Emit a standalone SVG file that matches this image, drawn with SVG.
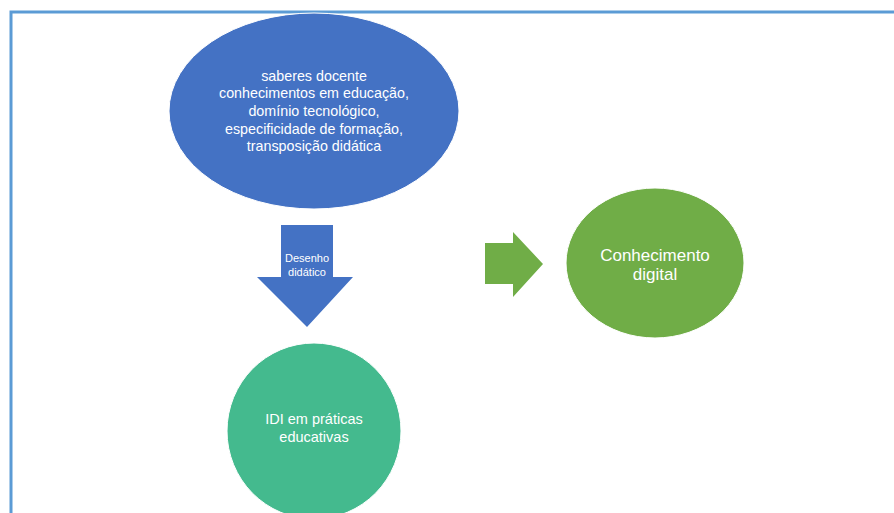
<svg xmlns="http://www.w3.org/2000/svg" width="894" height="513" viewBox="0 0 894 513">
  <style>
    text { font-family: "Liberation Sans", Arial, sans-serif; fill: #ffffff; text-anchor: middle; }
    .t14 { font-size: 14.3px; }
    .t17 { font-size: 17px; }
    .t11 { font-size: 11px; }
    .tl { font-size: 14.5px; }
  </style>
  <rect width="894" height="513" fill="#ffffff"/>
  <!-- frame -->
  <path d="M11 513 V12 H894" fill="none" stroke="#5B9BD5" stroke-width="3"/>

  <g id="connectors">
    <!-- downward block arrow -->
    <polygon points="281,225 333,225 333,277 353,277 307,327 257,277 281,277" fill="#4472C4"/>
    <text class="t11" x="307" y="262">Desenho</text>
    <text class="t11" x="307" y="276">didático</text>
    <!-- right block arrow -->
    <polygon points="485,243 513,243 513,232 543,264 513,297 513,284 485,284" fill="#70AD47"/>
  </g>

  <g id="saberes">
    <ellipse cx="314" cy="111" rx="145" ry="98" fill="#4472C4" stroke="#ffffff" stroke-width="1"/>
    <text class="t14" x="314" y="81">saberes docente</text>
    <text class="t14" x="314" y="98">conhecimentos em educação,</text>
    <text class="t14" x="314" y="116">domínio tecnológico,</text>
    <text class="t14" x="314" y="134">especificidade de formação,</text>
    <text class="t14" x="314" y="151">transposição didática</text>
  </g>

  <g id="conhecimento-digital">
    <ellipse cx="655" cy="263" rx="89" ry="75" fill="#70AD47" stroke="#ffffff" stroke-width="1"/>
    <text class="t17" x="655" y="261">Conhecimento</text>
    <text class="t17" x="655" y="280">digital</text>
  </g>

  <g id="idi">
    <ellipse cx="314" cy="431" rx="87" ry="88" fill="#44BA8E" stroke="#ffffff" stroke-width="1"/>
    <text class="tl" x="314" y="424">IDI em práticas</text>
    <text class="tl" x="314" y="442">educativas</text>
  </g>
</svg>
